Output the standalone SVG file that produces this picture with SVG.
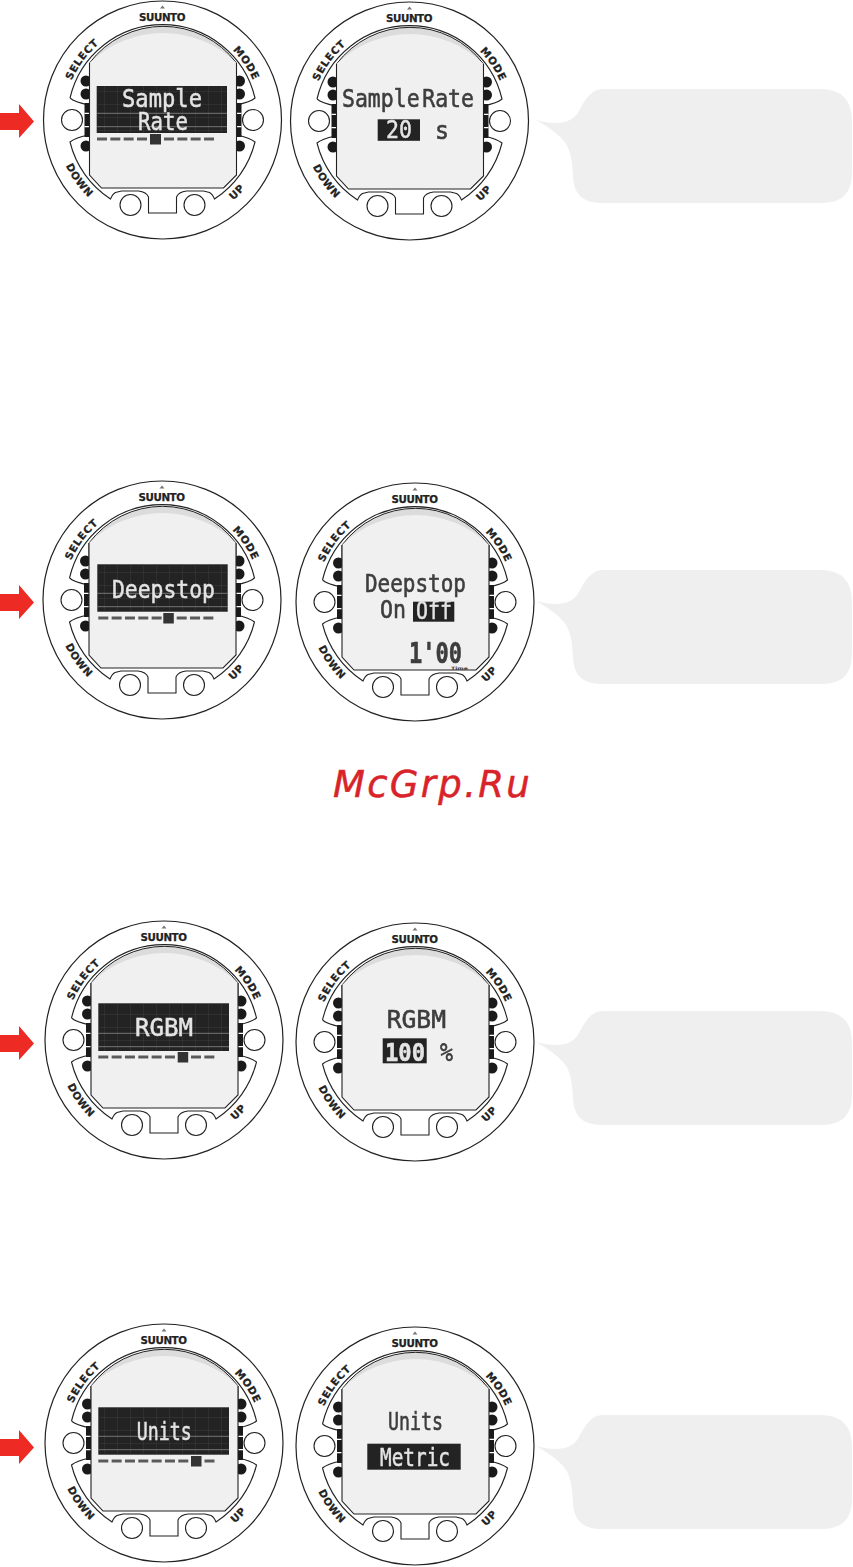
<svg xmlns="http://www.w3.org/2000/svg" width="853" height="1567" viewBox="0 0 853 1567">
<style>
.ring{fill:#fff;stroke:#222;stroke-width:1.2}
.line{fill:none;stroke:#222;stroke-width:1.1}
.btn{fill:#fff;stroke:#222;stroke-width:1.1}
.lab{font-family:"DejaVu Sans",sans-serif;font-weight:bold;font-size:10.3px;letter-spacing:.6px;fill:#222;stroke:#222;stroke-width:.25}
.bubble{fill:#efefef}
.arrow{fill:#ee2a24}
.box{fill:#232323}
.gl{stroke:#8a8a8a;stroke-width:.8}
.lcd{font-family:"DejaVu Sans Mono",monospace;font-size:25px;filter:url(#soft)}
.lt{fill:#e4e4e4;stroke:#e4e4e4;stroke-width:.5}
.dk{fill:#3d3d3d;stroke:#3d3d3d;stroke-width:.6}
.dash{fill:none;stroke:#5a5a5a;stroke-width:3;stroke-dasharray:10 3.33}
.sq{fill:#333}
</style>
<defs>
<filter id="soft" x="-10%" y="-10%" width="120%" height="120%"><feGaussianBlur stdDeviation="0.5"/></filter>
<pattern id="grid" width="13" height="13" patternUnits="userSpaceOnUse"><path d="M0 0V13M0 0H13" fill="none" stroke="#4a4a4a" stroke-width=".6"/></pattern>
<path id="arcTop" d="M-99 0A99 99 0 0 1 99 0"/>
<path id="arcBot" d="M-107 0A107 107 0 0 0 107 0"/>
<path id="bub" class="bubble" d="M603 89H820Q852 89 852 121V173Q852 203 822 203H601Q573 203 573 175C572 155 569 147 563 140C556 132 548 127 536 120C548 123 572 128 580 109C586 98 592 89 603 89Z"/>
<path id="arr" class="arrow" d="M0 113H19V104L34 121.500 19 138V130H0Z"/>
<g id="watch">
<circle class="ring" r="119"/>
<path d="M-2.500-111.500L0-114.500 2.500-111.500Z" fill="#777"/>
<path class="line" d="M-92.500-22A95 95 0 0 1 92.500-22Q88-18 74-15M-92.500-22Q-88-18 -74-15"/>
<path class="line" d="M-74 15Q-88 18 -92.500 22A95 95 0 0 0 -52 79Q-50 74 -47 72.500L-41 71H-24Q-16 72 -14 77V93H14V77Q16 72 24 71H41L47 72.500Q50 74 52 79A95 95 0 0 0 92.500 22Q88 18 74 15"/>
<g fill="#1a1a1a">
<circle cx="-76.500" cy="-39" r="5.500"/><circle cx="-76.500" cy="-26" r="5.500"/><circle cx="-76.500" cy="26" r="5.500"/>
<circle cx="77" cy="-39" r="5.500"/><circle cx="77" cy="-26" r="5.500"/><circle cx="77" cy="26" r="5.500"/>
<rect x="-78" y="-17" width="6" height="34"/><rect x="73" y="-17" width="6" height="34"/>
</g>
<path d="M-78-6.700h6M-78 6.700h6M73-6.700h6M73 6.700h6" stroke="#fff" stroke-width="1.300"/>
<path d="M-73-57A92 92 0 0 1 74-57V-40H-73Z" fill="#dcdcdc" stroke="#222" stroke-width="1"/>
<path d="M-73-57A105 105 0 0 1 74-57V55L61 68H-61L-73 55Z" fill="#f0f0f0"/>
<path class="line" d="M-73-57V55L-61 68H61L74 55V-57"/>
<circle class="btn" cx="-90.500" r="10.500"/><circle class="btn" cx="90.500" r="10.500"/>
<circle class="btn" cx="-32" cy="85" r="10.500"/><circle class="btn" cx="32" cy="85" r="10.500"/>
<text class="lab" text-anchor="middle" y="-99.500" textLength="47">SUUNTO</text>
<text class="lab" text-anchor="middle"><textPath href="#arcTop" startOffset="20.500%">SELECT</textPath></text>
<text class="lab" text-anchor="middle"><textPath href="#arcTop" startOffset="81%">MODE</textPath></text>
<text class="lab" text-anchor="middle"><textPath href="#arcBot" startOffset="20%">DOWN</textPath></text>
<text class="lab" text-anchor="middle"><textPath href="#arcBot" startOffset="75.500%">UP</textPath></text>
</g>
</defs>

<g id="arrow-1"><use href="#arr"/></g>
<g id="arrow-2"><use href="#arr" y="481"/></g>
<g id="arrow-3"><use href="#arr" y="922"/></g>
<g id="arrow-4"><use href="#arr" y="1326"/></g>

<g id="bubble-1"><use href="#bub"/></g>
<g id="bubble-2"><use href="#bub" y="481"/></g>
<g id="bubble-3"><use href="#bub" y="922"/></g>
<g id="bubble-4"><use href="#bub" y="1326"/></g>

<g id="watch-sample-rate-menu">
<use href="#watch" x="162.500" y="120"/>
<rect class="box" x="96.700" y="86" width="130.300" height="47"/>
<rect x="96.700" y="86" width="130.300" height="47" fill="url(#grid)"/>
<path class="gl" d="M97 113.300H227M97 126.700H227"/>
<text class="lcd lt" x="122" y="107" textLength="80" lengthAdjust="spacingAndGlyphs">Sample</text>
<text class="lcd lt" x="138" y="129.500" textLength="50" lengthAdjust="spacingAndGlyphs">Rate</text>
<path class="dash" d="M97 139H148M164 139H214"/>
<rect class="sq" x="150" y="134" width="11" height="10.500"/>
</g>

<g id="watch-sample-rate-value">
<use href="#watch" x="409.500" y="121"/>
<text class="lcd dk" x="342" y="107" textLength="132" lengthAdjust="spacingAndGlyphs" style="word-spacing:-12px">Sample Rate</text>
<rect class="box" x="377.700" y="119.300" width="42.300" height="21.500"/>
<text class="lcd lt" x="386" y="138" textLength="26" lengthAdjust="spacingAndGlyphs">20</text>
<text class="lcd dk" x="435" y="139" textLength="14" lengthAdjust="spacingAndGlyphs">s</text>
</g>

<g id="watch-deepstop-menu">
<use href="#watch" x="162" y="600"/>
<rect class="box" x="97.300" y="564.300" width="130.400" height="47.400"/>
<rect x="97.300" y="564.300" width="130.400" height="47.400" fill="url(#grid)"/>
<path class="gl" d="M97.300 593.300H227.700M97.300 606.700H227.700"/>
<text class="lcd lt" x="112" y="598" textLength="103" lengthAdjust="spacingAndGlyphs">Deepstop</text>
<path class="dash" d="M98.300 618H162M176.700 618H216"/>
<rect class="sq" x="163.300" y="613" width="10.500" height="10.500"/>
</g>

<g id="watch-deepstop-value">
<use href="#watch" x="415" y="602"/>
<text class="lcd dk" x="365" y="591.700" textLength="101" lengthAdjust="spacingAndGlyphs">Deepstop</text>
<text class="lcd dk" x="380" y="617.700" textLength="26" lengthAdjust="spacingAndGlyphs">On</text>
<rect class="box" x="413" y="601.700" width="41.300" height="20"/>
<text class="lcd lt" x="416" y="619" textLength="36" lengthAdjust="spacingAndGlyphs">Off</text>
<text class="lcd dk" x="409" y="662.700" textLength="53" lengthAdjust="spacingAndGlyphs" style="font-weight:bold;font-size:29px">1'00</text>
<text x="451" y="670" textLength="17" lengthAdjust="spacingAndGlyphs" font-family="'DejaVu Sans',sans-serif" font-size="4.500" font-weight="bold" fill="#3d3d3d">Time</text>
</g>

<g id="watch-rgbm-menu">
<use href="#watch" x="164" y="1040"/>
<rect class="box" x="98.300" y="1003.300" width="130.700" height="47.700"/>
<rect x="98.300" y="1003.300" width="130.700" height="47.700" fill="url(#grid)"/>
<path class="gl" d="M98.300 1033.300H229M98.300 1046.700H229"/>
<text class="lcd lt" x="135" y="1035.700" textLength="58" lengthAdjust="spacingAndGlyphs">RGBM</text>
<path class="dash" d="M98.300 1057H176M191 1057H216"/>
<rect class="sq" x="177.700" y="1052" width="10.500" height="10.500"/>
</g>

<g id="watch-rgbm-value">
<use href="#watch" x="415" y="1042"/>
<text class="lcd dk" x="386.700" y="1028" textLength="59.300" lengthAdjust="spacingAndGlyphs">RGBM</text>
<rect class="box" x="382.700" y="1038.300" width="44" height="25"/>
<text class="lcd lt" x="385" y="1060.500" textLength="40" lengthAdjust="spacingAndGlyphs" style="font-weight:bold">100</text>
<text class="lcd dk" x="440" y="1061" textLength="13" lengthAdjust="spacingAndGlyphs">%</text>
</g>

<g id="watch-units-menu">
<use href="#watch" x="164" y="1443"/>
<rect class="box" x="98.300" y="1407.300" width="130.700" height="47.400"/>
<rect x="98.300" y="1407.300" width="130.700" height="47.400" fill="url(#grid)"/>
<path class="gl" d="M98.300 1436.300H229M98.300 1449.700H229"/>
<text class="lcd lt" x="136.700" y="1439.700" textLength="55" lengthAdjust="spacingAndGlyphs">Units</text>
<path class="dash" d="M98.300 1461H189M204.500 1461H216"/>
<rect class="sq" x="191" y="1456" width="10.500" height="10.500"/>
</g>

<g id="watch-units-value">
<use href="#watch" x="415" y="1446"/>
<text class="lcd dk" x="388" y="1429.700" textLength="55" lengthAdjust="spacingAndGlyphs">Units</text>
<rect class="box" x="367.300" y="1443.700" width="93.400" height="26"/>
<text class="lcd lt" x="380" y="1466" textLength="70" lengthAdjust="spacingAndGlyphs">Metric</text>
</g>

<g id="watermark">
<text x="333" y="797" font-family="'DejaVu Sans',sans-serif" font-style="oblique" font-size="37" letter-spacing="2.300" fill="#d9232a" stroke="#d9232a" stroke-width=".5">McGrp.Ru</text>
</g>
</svg>
